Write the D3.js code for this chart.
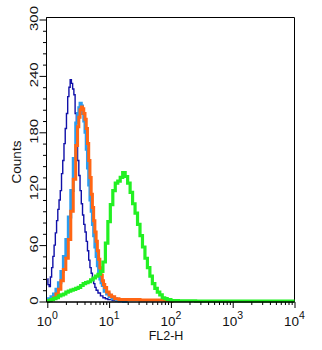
<!DOCTYPE html>
<html><head><meta charset="utf-8">
<script src="https://cdn.jsdelivr.net/npm/d3@7"></script>
<style>
html,body{margin:0;padding:0;background:#fff;}
svg{display:block;font-family:"Liberation Sans",Arial,Helvetica,sans-serif;}
</style></head>
<body><svg id="c" width="322" height="350"></svg>
<script>
// Histogram data: x = log10(FL2-H), y = counts
const navyLog = [0,0.02,0.04,0.06,0.08,0.10,0.12,0.14,0.16,0.18,0.20,0.22,0.24,0.26,0.28,0.30,0.32,0.34,0.36,0.38,0.40,0.42,0.44,0.46,0.48,0.50,0.52,0.54,0.56,0.58,0.60,0.62,0.64,0.66,0.68,0.70,0.72,0.74,0.76,0.78,0.80,0.84,0.88,0.92,0.96,1.00,1.10,1.20];
const navyCounts = [24,18,16,26,36,48,60,73,86,98,108,118,136,150,168,184,200,218,228,236,232,226,220,200,172,150,134,118,104,92,82,74,64,54,44,36,30,24,19,15,12,9,6,4,3,2,1,0];

const blueLog = [0,0.04,0.08,0.12,0.16,0.20,0.24,0.28,0.32,0.36,0.40,0.44,0.48,0.50,0.52,0.54,0.56,0.58,0.60,0.62,0.64,0.66,0.68,0.70,0.72,0.74,0.76,0.78,0.80,0.82,0.84,0.86,0.88,0.90,0.94,0.98,1.02,1.08,1.16,1.30];
const blueCounts = [1,3,5,8,13,20,32,48,66,90,118,152,190,200,206,211,208,200,192,180,162,142,124,108,96,82,70,58,48,38,30,24,20,17,11,8,5,3,1,0];

const orangeLog = [0,0.04,0.08,0.12,0.16,0.20,0.24,0.28,0.32,0.36,0.40,0.44,0.48,0.50,0.52,0.54,0.56,0.58,0.60,0.62,0.64,0.66,0.68,0.70,0.72,0.74,0.76,0.78,0.80,0.82,0.84,0.86,0.88,0.90,0.92,0.94,0.98,1.02,1.06,1.12,1.20,1.40,1.60,1.80,2.00,2.04];
const orangeCounts = [0,1,2,4,8,13,22,34,46,66,96,130,166,186,196,204,207,205,200,194,184,168,150,132,114,100,86,74,64,54,45,36,28,22,18,15,10,7,5,3,2,2,1.5,1.5,1,0];

const greenLog = [0,0.04,0.08,0.12,0.16,0.20,0.24,0.28,0.32,0.36,0.40,0.44,0.48,0.52,0.56,0.60,0.64,0.68,0.72,0.76,0.80,0.84,0.88,0.92,0.96,1.00,1.04,1.08,1.12,1.16,1.20,1.24,1.28,1.32,1.36,1.40,1.44,1.48,1.52,1.56,1.60,1.64,1.68,1.72,1.76,1.80,1.84,1.88,1.92,1.96,2.04,2.20,2.60,3.00,3.50,4.00];
const greenCounts = [0,1,2,3,4,6,7,8,10,11,12,13,14,15,17,19,20,21,23,25,27,29,32,42,62,85,103,118,126,128,132,137,133,126,116,104,94,82,70,58,46,36,27,19,14,10,7,4,3,2,1,0.8,0.5,0.5,0.5,0.5];

const yTicks = [0,60,120,180,240,300];
const xDecades = [0,1,2,3,4];
const xLabel = "FL2-H";
const yLabel = "Counts";

const series = [
  {name:"navy", xs:navyLog, ys:navyCounts, color:"#1010a8", width:1.4},
  {name:"blue", xs:blueLog, ys:blueCounts, color:"#2a9df0", width:3},
  {name:"orange", xs:orangeLog, ys:orangeCounts, color:"#ff6614", width:3},
  {name:"green", xs:greenLog, ys:greenCounts, color:"#22f022", width:3.2}
];

const svg = d3.select("#c");
const x = d3.scaleLog().domain([1,1e4]).range([47.3,294.5]);
const y = d3.scaleLinear().domain([0,300]).range([301.5,19.5]);

// frame (top and right)
svg.append("path").attr("d","M46.5,17.5H294.5V302").attr("fill","none").attr("stroke","#000").attr("stroke-width",1);

const line = d3.line().x(d=>x(Math.pow(10,d[0]))).y(d=>y(d[1])).curve(d3.curveStep);
series.forEach(s=>{
  const pts = s.xs.map((v,i)=>[v,s.ys[i]]);
  svg.append("path").datum(pts).attr("d",line).attr("fill","none")
    .attr("stroke",s.color).attr("stroke-width",s.width).attr("stroke-linejoin","miter");
});

// y axis
const yMinor = d3.range(0,301,12).filter(v=>v%60!==0);
const yAxisMajor = d3.axisLeft(y).tickValues(yTicks).tickSize(7).tickFormat("");
const yAxisMinor = d3.axisLeft(y).tickValues(yMinor).tickSize(3.5).tickFormat("");
const gy = svg.append("g").attr("transform","translate(46.5,0)");
gy.call(yAxisMajor);
gy.append("g").call(yAxisMinor);
gy.selectAll(".domain").attr("d","M0,17.5V302");
gy.selectAll("path,line").attr("stroke","#000");
yTicks.forEach(v=>{
  svg.append("text").attr("transform",`translate(37.5,${y(v)-1}) rotate(-90) scale(1.15,0.9)`)
    .attr("text-anchor","middle").attr("font-size",13).attr("fill","#111").text(v);
});

// x axis
const xMajor = xDecades.map(d=>Math.pow(10,d));
const xMinor = [];
for(let d=0; d<4; d++) for(let k=2;k<=9;k++) xMinor.push(k*Math.pow(10,d));
const gx = svg.append("g").attr("transform","translate(0,302)");
gx.call(d3.axisBottom(x).tickValues(xMajor).tickSize(6).tickFormat(""));
gx.append("g").call(d3.axisBottom(x).tickValues(xMinor).tickSize(3).tickFormat(""));
gx.selectAll(".domain").attr("d","M46.5,0H294.5");
gx.selectAll("path,line").attr("stroke","#000");
xDecades.forEach(d=>{
  const t = svg.append("text").attr("x",x(Math.pow(10,d))).attr("y",326)
    .attr("text-anchor","middle").attr("font-size",13.5).attr("fill","#111");
  t.append("tspan").text("10");
  t.append("tspan").attr("dy",-7).attr("font-size",10.5).text(d);
});

svg.append("text").attr("x",166).attr("y",340).attr("text-anchor","middle")
  .attr("font-size",12.5).attr("fill","#111").text(xLabel);
svg.append("text").attr("transform","translate(21,162) rotate(-90)").attr("text-anchor","middle")
  .attr("font-size",13.5).attr("fill","#111").text(yLabel);
</script></body></html>
